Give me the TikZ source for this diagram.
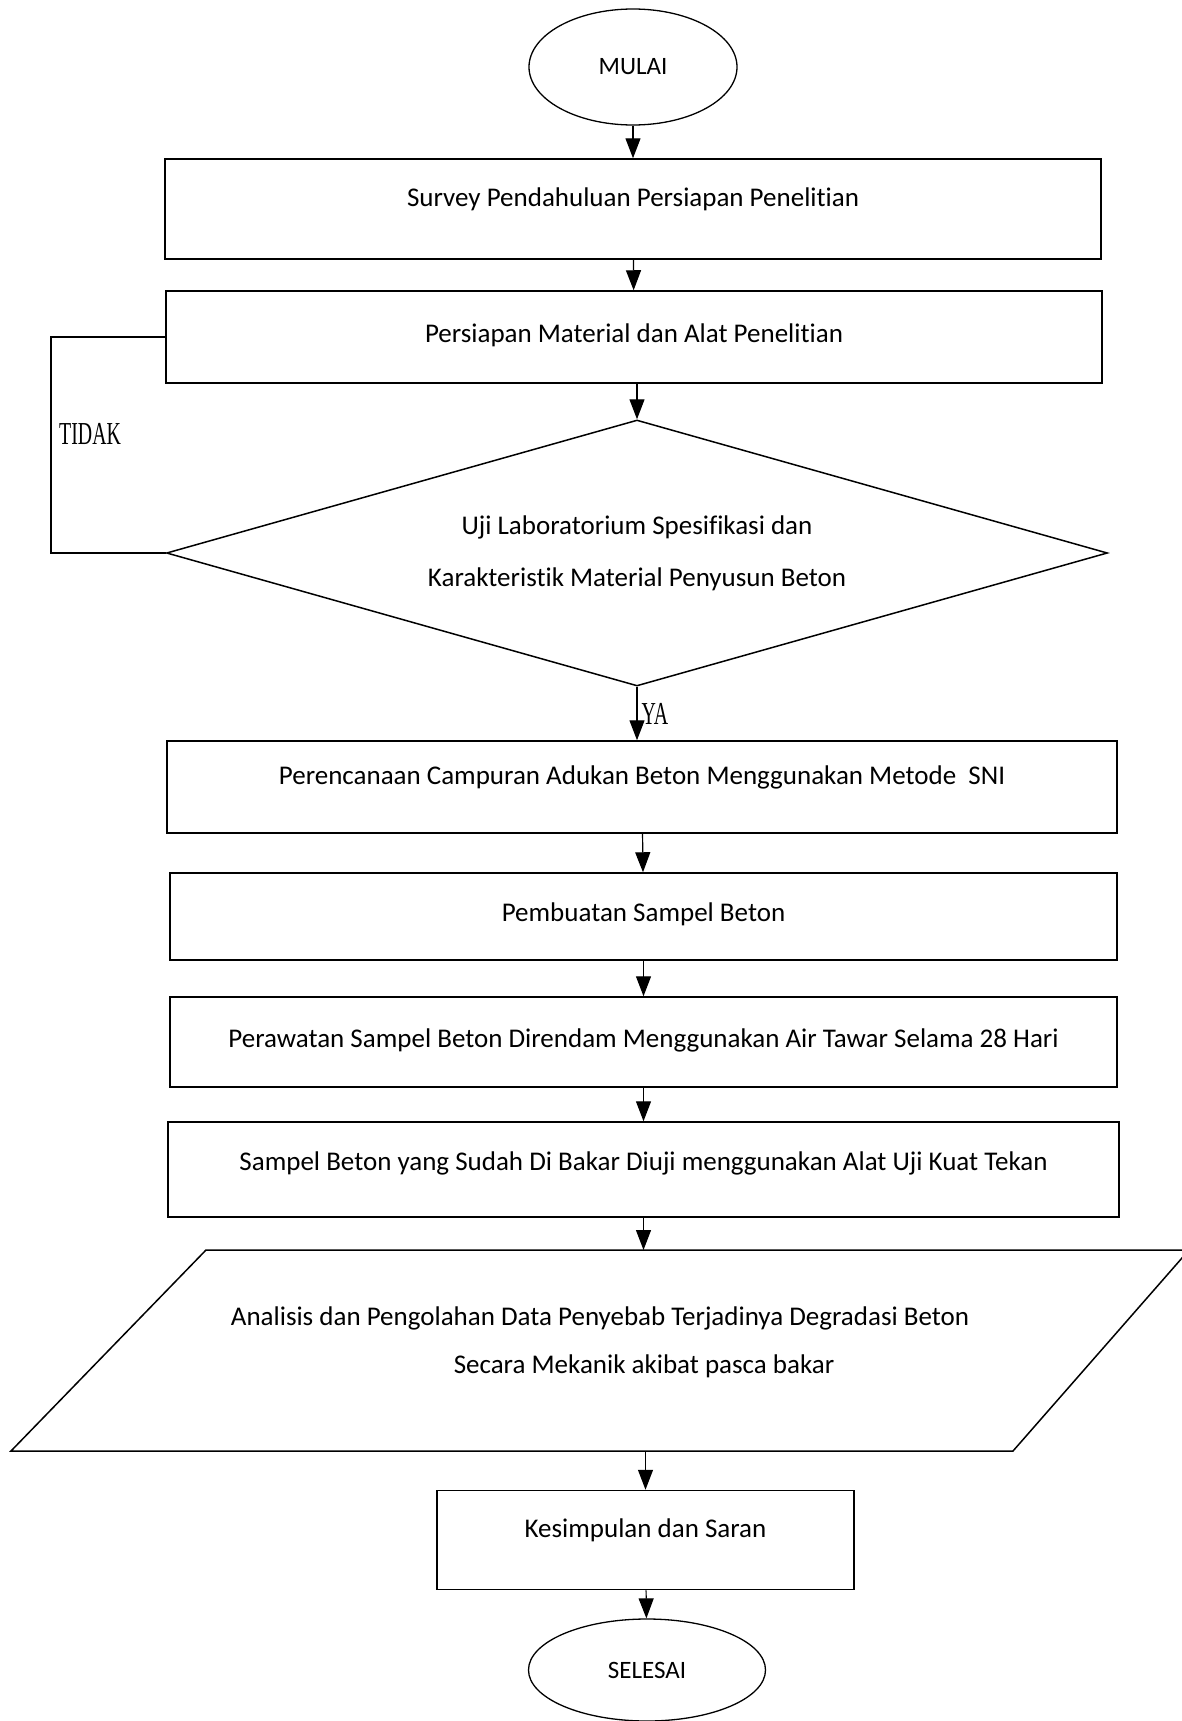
\documentclass[tikz,border=0pt]{standalone}
\usepackage{fontspec}
\setmainfont{Carlito}[Ligatures=NoCommon]
\newfontfamily\timesfont{Liberation Serif}
\newcommand{\sempit}[1]{\scalebox{0.62}[1]{#1}}
\usetikzlibrary{shapes.geometric,arrows.meta}

\begin{document}
\begin{tikzpicture}[x=1pt, y=-1pt,
    kotak/.style = {draw, line width=1.5pt, rectangle, inner sep=0pt,
        font=\fontsize{27}{27}\selectfont, text height=20pt, text depth=26pt},
    oval/.style = {draw, line width=1.3pt, ellipse, inner sep=0pt,
        font=\fontsize{25}{25}\selectfont},
    garis/.style = {line width=1.3pt},
    panah/.style = {line width=1.2pt, -{Triangle[length=20pt, width=15pt]}},
    ket/.style = {font=\timesfont\fontsize{32}{32}\selectfont, inner sep=0pt}]
    \clip (0,0) rectangle (1182,1721);

    \node[oval, minimum width=208pt, minimum height=116pt] (mulai) at (633,67) {MULAI};
    \node[kotak, minimum width=936pt, minimum height=100pt] (survey) at (633,209)
        {Survey Pendahuluan Persiapan Penelitian};
    \node[kotak, minimum width=936pt, minimum height=92pt, text depth=10pt] (persiapan) at (634,337)
        {Persiapan Material dan Alat Penelitian};
    \node[draw, diamond, aspect=3.5, line width=1.5pt, inner sep=0pt, align=center,
        minimum width=941pt, minimum height=266pt,
        font=\fontsize{27}{52}\selectfont] (uji) at (637,553)
        {Uji Laboratorium Spesifikasi dan\\Karakteristik Material Penyusun Beton};
    \node[kotak, minimum width=950pt, minimum height=92pt] (rencana) at (642,787)
        {Perencanaan Campuran Adukan Beton Menggunakan Metode~ SNI};
    \node[kotak, minimum width=947pt, minimum height=87pt, text depth=10pt] (buat) at (643.5,916.5)
        {Pembuatan Sampel Beton};
    \node[kotak, minimum width=947pt, minimum height=90pt, text depth=10pt] (rawat) at (643.5,1042)
        {Perawatan Sampel Beton Direndam Menggunakan Air Tawar Selama 28 Hari};
    \node[kotak, minimum width=951pt, minimum height=95pt, text depth=18pt] (tekan) at (643.5,1169.5)
        {Sampel Beton yang Sudah Di Bakar Diuji menggunakan Alat Uji Kuat Tekan};

    % data / parallelogram
    \coordinate (p1) at (206,1250);
    \coordinate (p2) at (1189,1250);
    \coordinate (p3) at (1013,1451);
    \coordinate (p4) at (11,1451);
    \draw[line width=1.5pt] (p1) -- (p2) -- (p3) -- (p4) -- cycle;
    \node[inner sep=0pt, align=center, font=\fontsize{27}{48}\selectfont] (analisis) at (644,1342)
        {Analisis dan Pengolahan Data Penyebab Terjadinya Degradasi Beton\hspace*{88pt}\\
         Secara Mekanik akibat pasca bakar};

    \node[kotak, minimum width=417pt, minimum height=99pt] (simpul) at (645.5,1540)
        {Kesimpulan dan Saran};
    \node[oval, minimum width=237pt, minimum height=102pt] (selesai) at (647,1670) {SELESAI};

    % connectors
    \draw[panah] (mulai) -- (survey);
    \draw[panah] (survey) -- (persiapan);
    \draw[panah] (persiapan.south -| uji.north) -- (uji.north);
    \draw[panah] (uji.south) -- (uji.south |- rencana.north)
        node[ket, midway, right=4pt] {\sempit{YA}};
    \draw[panah] (rencana) -- (buat);
    \draw[panah] (buat) -- (rawat);
    \draw[panah] (rawat) -- (tekan);
    \draw[panah] (tekan.south) -- (tekan.south |- p1);
    \draw[panah] (p4 -| simpul.north) -- (simpul.north);
    \draw[panah] (simpul) -- (selesai);

    % TIDAK loop
    \coordinate (balik) at (51,337);
    \draw[garis] (persiapan.west) -- (balik) |- (uji.west);
    \node[ket, anchor=west] (tidak) at (59,434) {\sempit{TIDAK}};
\end{tikzpicture}
\end{document}
